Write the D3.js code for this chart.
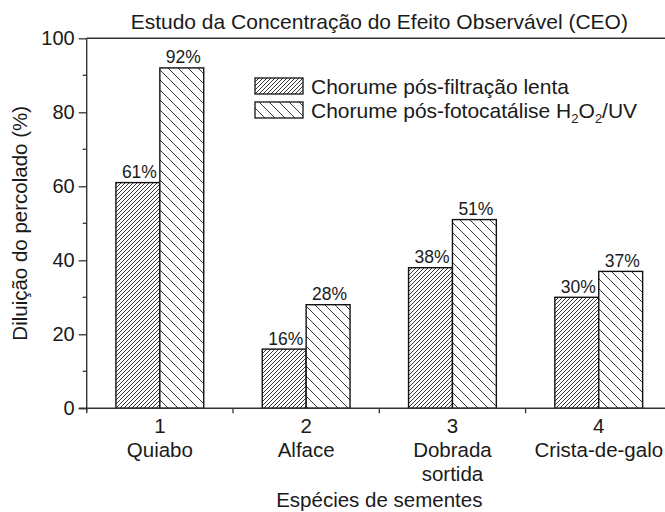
<!DOCTYPE html>
<html>
<head>
<meta charset="utf-8">
<script src="https://cdn.jsdelivr.net/npm/d3@7"></script>
<style>
  body { margin: 0; background: #fff; }
  text { font-family: "Liberation Sans", Arial, sans-serif; fill: #1a1a1a; }
</style>
</head>
<body>
<div id="chart"></div>
<script>
// data
var categories = [1, 2, 3, 4];
var speciesNames = [["Quiabo"], ["Alface"], ["Dobrada", "sortida"], ["Crista-de-galo"]];
var slowFiltration = [61, 16, 38, 30];
var photocatalysis = [92, 28, 51, 37];
var yTicks = [0, 20, 40, 60, 80, 100];
var yMinorTicks = [10, 30, 50, 70, 90];
var xBoundaryTicks = [0.5, 1.5, 2.5, 3.5, 4.5];

var width = 665, height = 512;
var margin = { top: 38.3, left: 86.7 };
var fs = "20.5px";

var svg = d3.select("#chart").append("svg")
  .attr("width", width)
  .attr("height", height);

// hatch patterns
var defs = svg.append("defs");
function hatch(id, s, forward) {
  var p = defs.append("pattern")
    .attr("id", id)
    .attr("patternUnits", "userSpaceOnUse")
    .attr("width", s)
    .attr("height", s);
  p.append("rect").attr("width", s).attr("height", s).attr("fill", "#fff");
  var d = forward
    ? "M0," + s + "L" + s + ",0M-1,1L1,-1M" + (s - 1) + "," + (s + 1) + "L" + (s + 1) + "," + (s - 1)
    : "M0,0L" + s + "," + s + "M-1," + (s - 1) + "L1," + (s + 1) + "M" + (s - 1) + ",-1L" + (s + 1) + ",1";
  p.append("path").attr("d", d)
    .attr("stroke", "#222")
    .attr("stroke-width", 0.9)
    .attr("fill", "none");
}
hatch("hatchA", 4, true);
hatch("hatchB", 10, false);

var x = d3.scaleLinear().domain([0.5, 4.5]).range([margin.left, margin.left + 4 * 146.3]);
var y = d3.scaleLinear().domain([0, 100]).range([408.3, margin.top]);
var barW = x(1.3) - x(1);

// bars
var series = [
  { vals: slowFiltration, fill: "url(#hatchA)", off: -barW },
  { vals: photocatalysis, fill: "url(#hatchB)", off: 0 }
];
series.forEach(function(s) {
  var g = svg.append("g");
  g.selectAll("rect")
    .data(s.vals)
    .enter().append("rect")
    .attr("x", function(d, i) { return x(categories[i]) + s.off; })
    .attr("y", function(d) { return y(d); })
    .attr("width", barW)
    .attr("height", function(d) { return y(0) - y(d); })
    .attr("fill", s.fill)
    .attr("stroke", "#111")
    .attr("stroke-width", 1.4);
  g.selectAll("text")
    .data(s.vals)
    .enter().append("text")
    .attr("x", function(d, i) { return x(categories[i]) + s.off + barW / 2 + 1.5; })
    .attr("y", function(d) { return y(d) - 4.5; })
    .attr("text-anchor", "middle")
    .style("font-size", "17.5px")
    .text(function(d) { return d + "%"; });
});

// y axis
var yAxis = d3.axisLeft(y).tickValues(yTicks).tickSize(8).tickPadding(4);
var yg = svg.append("g").attr("transform", "translate(" + margin.left + ",0)").call(yAxis);
yg.select(".domain").remove();
yg.selectAll(".tick line").attr("stroke", "#333").attr("stroke-width", 1.3);
yg.selectAll(".tick text").style("font-size", "20px").attr("fill", "#1a1a1a")
  .style("font-family", "'Liberation Sans', Arial, sans-serif");
svg.append("g").selectAll("line")
  .data(yMinorTicks)
  .enter().append("line")
  .attr("x1", margin.left - 4).attr("x2", margin.left)
  .attr("y1", function(d) { return y(d); })
  .attr("y2", function(d) { return y(d); })
  .attr("stroke", "#333").attr("stroke-width", 1.3);

// x axis ticks at group boundaries
svg.append("g").selectAll("line")
  .data(xBoundaryTicks)
  .enter().append("line")
  .attr("x1", function(d) { return x(d); })
  .attr("x2", function(d) { return x(d); })
  .attr("y1", y(0)).attr("y2", y(0) + 5)
  .attr("stroke", "#333").attr("stroke-width", 1.3);

// frame lines: left, bottom, top
svg.append("line").attr("x1", margin.left).attr("x2", margin.left)
  .attr("y1", y(100)).attr("y2", y(0) + 3)
  .attr("stroke", "#333").attr("stroke-width", 1.4);
svg.append("line").attr("x1", margin.left - 8).attr("x2", width)
  .attr("y1", y(0)).attr("y2", y(0))
  .attr("stroke", "#333").attr("stroke-width", 1.4);
svg.append("line").attr("x1", margin.left).attr("x2", width)
  .attr("y1", y(100)).attr("y2", y(100))
  .attr("stroke", "#333").attr("stroke-width", 1.4);

// category labels
var catG = svg.append("g");
categories.forEach(function(c, i) {
  catG.append("text")
    .attr("x", x(c)).attr("y", 433)
    .attr("text-anchor", "middle")
    .style("font-size", fs)
    .text(c);
  speciesNames[i].forEach(function(line, j) {
    catG.append("text")
      .attr("x", x(c)).attr("y", 457 + j * 24)
      .attr("text-anchor", "middle")
      .style("font-size", fs)
      .text(line);
  });
});

// axis titles
svg.append("text")
  .attr("x", x(2.5)).attr("y", 507)
  .attr("text-anchor", "middle")
  .style("font-size", fs)
  .text("Espécies de sementes");
svg.append("text")
  .attr("transform", "translate(27," + y(50) + ") rotate(-90)")
  .attr("text-anchor", "middle")
  .style("font-size", fs)
  .text("Diluição do percolado (%)");

// title
svg.append("text")
  .attr("x", x(2.5)).attr("y", 29)
  .attr("text-anchor", "middle")
  .style("font-size", "21px")
  .text("Estudo da Concentração do Efeito Observável (CEO)");

// legend
var legend = svg.append("g").attr("transform", "translate(255,78)");
var legendItems = [
  { fill: "url(#hatchA)", label: ["Chorume pós-filtração lenta"] },
  { fill: "url(#hatchB)", label: ["Chorume pós-fotocatálise H", "2", "O", "2", "/UV"] }
];
legendItems.forEach(function(d, i) {
  legend.append("rect")
    .attr("x", 0).attr("y", i * 24)
    .attr("width", 48).attr("height", 16)
    .attr("fill", d.fill)
    .attr("stroke", "#111").attr("stroke-width", 1.3);
  var t = legend.append("text")
    .attr("x", 56).attr("y", i * 24 + 15.5)
    .style("font-size", "21px");
  d.label.forEach(function(part, k) {
    var sub = (k % 2 === 1);
    t.append("tspan")
      .attr("dy", k === 0 ? 0 : (sub ? 5 : -5))
      .style("font-size", sub ? "13px" : "21px")
      .text(part);
  });
});
</script>
</body>
</html>
